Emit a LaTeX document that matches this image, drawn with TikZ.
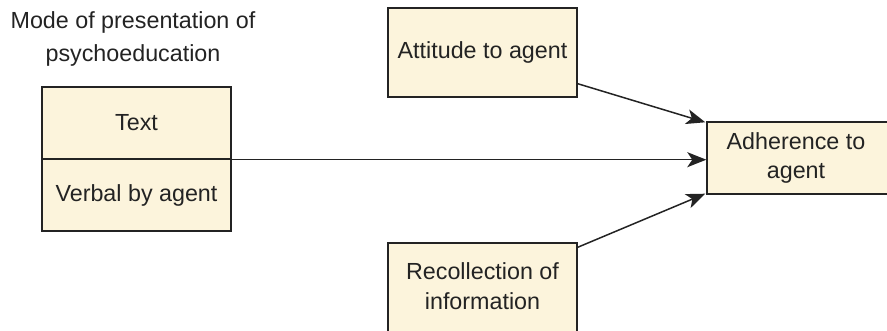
\documentclass[tikz,border=0pt]{standalone}
\usepackage{fontspec}
\setmainfont{Liberation Sans}
\usetikzlibrary{arrows.meta,calc}
\definecolor{boxfill}{RGB}{252,244,220}
\definecolor{ink}{RGB}{35,35,35}
\begin{document}
\begin{tikzpicture}[x=1pt,y=1pt,
  box/.style={draw=ink, fill=boxfill, line width=1.4pt, inner sep=0pt, minimum width=189pt, align=center, font=\fontsize{23.3}{30}\selectfont, text=ink},
  txt/.style={inner sep=0pt, align=center, font=\fontsize{23.3}{30}\selectfont, text=ink},
  conn/.style={draw=ink, line width=1.5pt, -{Stealth[length=19pt,width=15pt,inset=5pt]}}]
\useasboundingbox (0,0) rectangle (887,330);
% title
\node[txt, font=\fontsize{23.3}{33}\selectfont] (title) at (133,291.5) {Mode of presentation of\\psychoeducation};
% left split box
\node[box, minimum height=72pt] (text) at (136.5,207) {Text};
\node[box, minimum height=72pt] (verbal) at (136.5,135) {Verbal by agent};
% attitude
\node[box, minimum height=89pt] (att) at (482.5,277.5) {Attitude to agent};
% recollection
\node[box, minimum height=97pt] (rec) at (482.5,38.5) {};
\node[txt] (rectext) at (482.5,44) {Recollection of\\information};
% adherence
\node[box, minimum width=184pt, minimum height=72pt] (adh) at (799,172) {};
\node[txt, font=\fontsize{23.3}{29}\selectfont] (adhtext) at (796,172.5) {Adherence to\\agent};
% connectors
\draw[conn] ($(att.south east)+(0,14)$) -- ($(adh.north west)+(-1,-1)$);
\draw[conn] (text.south east) -- (text.south east -| adh.west);
\draw[conn] ($(rec.north east)+(0,-5)$) -- ($(adh.south west)+(-1,1)$);
\end{tikzpicture}
\end{document}
